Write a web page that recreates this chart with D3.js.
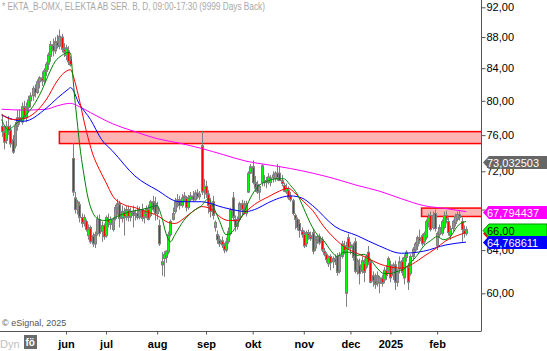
<!DOCTYPE html>
<html>
<head>
<meta charset="utf-8">
<script src="https://cdn.jsdelivr.net/npm/d3@7"></script>
<style>
body { margin: 0; background: #fff; }
svg { display: block; font-family: Arial, "Liberation Sans", sans-serif; }
</style>
</head>
<body>
<div id="chart"></div>
<script>
// daily candles [open, high, low, close]
const candles = [
  [77.0,78.4,75.8,76.4],[76.4,77.0,74.4,75.2],[75.4,77.6,75.0,77.0],[77.0,78.2,76.0,76.5],[76.6,77.2,74.6,75.0],
  [75.5,76.0,73.9,74.1],[74.8,77.5,74.5,77.0],[77.0,78.9,76.5,78.0],[78.0,79.0,77.2,77.6],[77.5,79.8,77.2,79.3],
  [79.3,80.0,77.8,78.2],[78.0,79.8,77.5,79.2],[79.2,80.6,78.6,80.1],[80.0,81.0,79.2,80.6],[80.6,81.8,80.0,81.5],
  [81.5,82.0,80.4,81.0],[81.0,82.6,80.8,82.3],[82.3,83.0,81.5,82.8],[82.8,83.6,81.8,82.4],[82.4,84.0,82.0,83.7],
  [83.6,84.8,83.0,84.5],[84.5,86.0,83.8,85.7],[85.5,87.5,84.8,87.0],[87.0,87.8,85.5,86.2],[86.2,88.0,85.8,87.4],
  [87.4,88.3,86.5,86.8],[86.8,89.0,86.4,88.1],[88.0,88.4,86.0,86.4],[86.4,87.2,85.4,86.0],[85.6,87.0,85.0,86.6],
  [86.2,86.8,84.4,84.8],[85.0,85.5,84.2,84.4],[73.4,75.1,69.4,69.8],[69.2,69.8,67.6,68.0],[68.0,69.0,67.5,68.8],
  [68.5,68.8,66.7,67.2],[67.2,67.6,66.2,66.6],[66.8,67.5,66.3,67.2],[66.8,67.0,65.8,66.0],[65.4,66.5,65.0,66.1],
  [66.2,66.4,64.6,64.8],[65.4,65.7,64.3,64.6],[64.6,65.8,64.2,65.5],[65.6,67.4,65.4,67.0],[67.0,67.5,65.3,65.6],
  [65.8,66.8,64.8,66.4],[66.4,66.6,65.0,65.3],[65.4,67.4,65.2,67.2],[67.0,67.6,66.2,66.6],[66.5,67.3,66.0,67.0],
  [66.0,67.2,65.8,67.0],[67.1,68.5,66.9,68.2],[68.2,69.1,67.4,68.6],[68.6,68.9,66.2,67.1],[67.1,68.4,66.7,67.8],
  [67.8,68.2,65.4,67.2],[67.2,68.4,66.9,68.0],[68.0,68.4,66.8,67.2],[67.2,68.2,66.8,67.8],[67.8,68.4,66.2,67.4],
  [67.4,68.0,66.9,67.6],[67.6,68.4,67.0,67.2],[67.2,68.3,67.0,68.0],[68.0,68.6,66.8,67.1],[67.2,67.9,66.6,67.6],
  [67.6,68.4,67.1,68.1],[68.1,68.5,66.9,67.0],[67.4,69.0,67.2,68.8],[68.8,69.4,67.8,68.0],[68.6,69.3,66.9,67.6],
  [67.6,68.8,67.0,68.2],[66.4,67.0,64.4,64.6],[62.6,63.8,61.6,62.9],[63.2,63.9,61.5,63.6],[63.3,64.0,62.8,63.9],
  [63.8,65.8,63.6,65.5],[65.5,67.0,65.3,66.8],[67.0,68.2,66.9,67.6],[67.8,69.2,67.6,68.8],[68.8,69.6,68.2,69.0],
  [69.0,69.4,68.0,68.4],[68.4,69.6,68.2,69.2],[69.2,69.8,68.8,69.4],[69.2,69.4,67.8,68.2],[68.2,69.5,68.0,69.2],
  [69.0,69.8,68.8,69.4],[69.4,69.9,68.8,69.0],[69.0,70.0,68.9,69.7],[69.7,70.1,69.1,69.3],[69.3,69.9,69.0,69.6],
  [74.8,76.5,69.5,69.8],[70.0,71.2,69.1,70.4],[70.4,71.0,69.2,69.6],[69.6,70.0,67.6,68.4],[68.6,69.2,67.2,67.8],
  [68.8,69.4,67.0,67.4],[66.2,66.9,65.8,66.7],[65.5,65.9,64.6,65.0],[65.0,65.4,64.3,64.6],[64.9,65.3,64.2,64.5],
  [64.5,64.7,63.7,64.0],[64.0,65.2,63.8,64.8],[64.8,66.2,64.6,65.8],[65.6,68.2,65.4,68.0],[69.2,69.8,66.8,67.2],
  [67.0,67.4,65.8,66.3],[66.3,67.3,66.0,67.0],[67.0,68.8,66.8,68.6],[68.6,69.0,67.5,68.0],[68.0,68.9,67.5,67.8],
  [67.6,68.9,67.3,68.6],[69.8,72.0,69.7,71.8],[71.8,72.8,71.7,72.5],[72.5,73.2,70.6,70.8],[70.8,71.5,69.8,70.2],
  [70.6,71.0,69.6,69.8],[69.8,70.6,69.0,70.4],[70.8,72.8,70.4,72.6],[71.0,71.6,70.4,70.8],[70.8,71.4,70.2,71.0],
  [71.0,71.8,70.6,71.4],[70.8,71.6,70.4,71.3],[71.3,72.0,70.8,71.6],[71.2,72.0,70.9,71.8],[71.8,72.8,71.0,71.3],
  [71.8,72.6,71.0,71.0],[71.0,71.6,70.4,70.7],[70.5,70.8,69.8,69.9],[69.8,70.7,69.6,70.2],[70.0,70.4,69.0,69.2],
  [69.4,69.8,68.8,69.0],[68.9,69.1,67.4,67.6],[67.4,67.6,66.0,67.0],[67.0,67.2,65.9,66.2],[66.6,67.0,65.2,65.9],
  [65.9,66.2,65.2,65.5],[65.6,65.9,64.2,64.4],[64.6,65.9,64.3,65.7],[65.7,66.0,65.0,65.4],[65.4,65.8,64.9,65.1],
  [65.7,66.1,63.6,63.9],[64.2,65.4,63.9,65.0],[65.0,65.5,64.6,65.3],[65.3,65.6,64.5,64.7],[65.0,65.3,63.8,64.0],
  [63.9,64.2,63.4,63.6],[63.6,63.8,62.8,63.1],[62.7,63.5,62.4,63.3],[63.4,63.6,62.1,62.8],[62.9,63.4,62.3,63.2],
  [63.2,63.6,62.6,62.9],[63.4,63.7,61.6,61.9],[62.0,63.8,61.8,63.5],[63.4,64.9,63.2,64.6],[64.4,64.9,63.6,63.9],
  [60.0,64.8,58.8,64.4],[65.2,65.6,64.0,64.2],[64.2,64.8,63.6,64.5],[64.5,64.7,63.0,63.3],[64.8,65.2,61.8,62.0],
  [62.0,63.2,61.7,63.0],[62.6,63.2,60.8,61.8],[62.0,63.4,61.8,63.0],[62.8,63.2,61.0,61.9],[62.4,63.6,62.2,63.4],
  [63.8,64.4,62.6,62.8],[62.9,63.2,60.9,61.0],[61.6,62.0,60.6,61.1],[61.1,61.8,60.4,60.8],[61.0,62.0,60.6,61.6],
  [60.9,61.6,60.0,61.4],[61.4,61.7,60.6,60.9],[61.2,62.4,60.9,62.1],[62.1,62.6,61.2,61.6],[62.0,63.4,61.8,63.2],
  [62.6,63.0,61.0,61.4],[61.6,62.8,61.2,62.6],[62.6,63.0,60.3,61.0],[61.0,62.2,60.6,62.0],[62.2,63.4,61.8,62.9],
  [63.0,63.3,61.6,61.9],[61.4,63.6,60.8,63.3],[63.3,64.0,62.9,63.8],[62.4,62.8,60.3,61.0],[61.8,63.6,61.6,63.4],
  [63.4,64.3,63.0,64.1],[64.0,64.8,63.8,64.6],[64.4,65.4,64.0,65.2],[65.2,66.0,64.6,64.9],[65.4,65.6,64.4,64.6],
  [64.8,65.8,64.5,65.6],[65.2,67.0,65.0,66.8],[66.6,67.6,66.2,67.2],[67.4,67.8,65.8,66.0],[66.2,67.8,66.0,67.4],
  [67.6,68.0,65.8,66.1],[64.4,65.8,64.0,65.6],[65.5,66.5,65.2,66.2],[65.6,67.0,65.4,66.8],[66.2,67.8,66.0,67.4],
  [67.4,67.9,66.6,67.0],[66.8,67.2,65.4,65.7],[65.4,66.4,65.0,66.1],[66.1,67.0,65.8,66.8],[66.6,67.6,66.3,67.3],
  [67.0,67.8,66.8,67.5],[67.5,67.9,66.9,67.2],[66.8,67.2,64.8,66.0],[66.0,66.4,65.2,65.6],[65.6,66.3,65.4,66.0]
];

const monthLabels = ['jun', 'jul', 'aug', 'sep', 'okt', 'nov', 'dec', '2025', 'feb'];
const monthStart = [29, 47, 70, 92, 113, 136, 157, 175, 196];   // candle index of first day
const priceTicks = [60, 64, 68, 72, 76, 80, 84, 88, 92];

// moving averages: [candle index] / [value]
const greenIdx = [0,3,6,10,14,18,21,24,27,30,31,32,33,34,35,37,39,41,43,46,49,53,58,63,68,70,72,74,76,78,82,86,90,93,95,98,101,103,106,109,112,115,119,124,127,130,133,136,139,142,145,148,151,154,157,160,163,166,169,172,175,178,181,184,187,190,193,196,199,202,205,209];
const greenMa = [77.8,76.6,77.2,78.1,79.3,81.2,83.1,84.8,85.6,86.0,85.9,83.1,80.1,77.6,75.2,71.7,69.1,67.7,67.1,66.9,67.0,67.4,67.8,68.0,68.3,68.4,67.3,65.6,64.8,65.5,66.9,67.8,68.4,69.1,68.4,66.9,65.5,65.6,66.5,67.7,69.2,70.3,70.9,71.2,71.2,70.5,69.6,68.1,66.6,65.5,64.9,64.0,63.4,63.8,63.8,63.5,63.6,63.1,62.3,61.8,61.8,62.0,62.2,62.8,63.5,64.4,64.9,65.3,65.0,65.3,66.3,66.8];
const redIdx = [0,5,10,15,20,25,28,31,33,35,38,41,44,47,50,55,60,65,70,75,78,82,86,90,94,98,102,106,110,115,120,125,129,132,136,140,145,150,155,160,165,170,175,180,185,190,195,200,205,209];
const redMa = [78.4,77.8,77.9,78.6,80.1,82.4,83.4,83.8,82.3,80.1,76.6,73.9,72.2,70.8,69.4,68.5,68.2,67.8,67.4,66.7,66.6,67.1,67.8,68.3,68.1,67.3,66.9,66.9,67.8,68.7,69.3,69.9,70.2,69.7,68.8,67.9,66.3,65.1,64.2,63.7,63.2,62.7,62.4,62.3,62.7,63.4,64.1,64.9,65.4,65.7];
const blueIdx = [0,10,20,25,30,31,35,40,45,50,60,70,80,90,100,110,115,120,130,135,140,150,160,170,180,190,200,209];
const blueMa = [78.3,77.6,79.1,80.3,81.4,81.6,79.6,77.8,75.5,74.2,71.5,70.0,68.8,68.8,68.2,67.8,68.1,68.7,69.4,69.2,68.4,66.3,65.4,64.4,63.7,63.9,64.5,64.77];
const magentaIdx = [0,10,20,25,31,35,40,50,60,70,80,90,100,110,120,130,140,150,160,170,180,190,200,209];
const magentaMa = [79.0,78.9,79.0,79.4,79.7,79.3,78.6,77.3,76.4,75.6,75.1,74.5,73.8,73.1,72.7,72.3,71.8,71.2,70.5,69.9,69.1,68.4,68.1,67.79];

// resistance zones: [low, high], starting candle index
const zoneLow = [75.05, 67.3];
const zoneHigh = [76.4, 68.15];
const zoneFrom = [26, 189];

// price flags on the right axis
const flagValues = [73.032503, 67.794437, 65.652288, 66.00, 64.768611];
const flagTexts = ['73,032503', '67,794437', '65,652288', '66,00', '64,768611'];
const flagFill = ['#666666', '#ff00ff', '#ff0000', '#00ff00', '#0000ff'];
const flagInk = ['#ffffff', '#ffffff', '#ffffff', '#000000', '#ffffff'];

const width = 547, height = 351;
const plotRight = 481, plotBottom = 331;

const svg = d3.select('#chart')
  .append('svg')
  .attr('width', width)
  .attr('height', height);

const x = d3.scaleLinear()
  .domain([0, candles.length - 1])
  .range([1.6, 466]);

const y = d3.scaleLog()
  .domain([60, 92])
  .range([293.3, 7.3]);

svg.append('defs').append('clipPath').attr('id', 'plot')
  .append('rect').attr('x', 0).attr('y', 0).attr('width', plotRight).attr('height', plotBottom);

const plot = svg.append('g').attr('clip-path', 'url(#plot)');

// zones
zoneFrom.forEach((f, i) => {
  plot.append('rect')
    .attr('x', x(f))
    .attr('y', y(zoneHigh[i]))
    .attr('width', plotRight - x(f) + 2)
    .attr('height', y(zoneLow[i]) - y(zoneHigh[i]))
    .attr('fill', '#ffb4b4')
    .attr('stroke', '#ff0000')
    .attr('stroke-width', 1.5);
});

// candles
const candle = plot.selectAll('g.c')
  .data(candles)
  .enter()
  .append('g');

candle.append('line')
  .attr('x1', (d, i) => Math.round(x(i)) + 0.5)
  .attr('x2', (d, i) => Math.round(x(i)) + 0.5)
  .attr('y1', d => y(d[1]))
  .attr('y2', d => y(d[2]))
  .attr('stroke', '#808080')
  .attr('stroke-width', 1);

candle.append('rect')
  .attr('x', (d, i) => Math.round(x(i)) - 0.5)
  .attr('y', d => y(Math.max(d[0], d[3])))
  .attr('width', 2)
  .attr('height', d => Math.max(1, Math.abs(y(d[0]) - y(d[3]))))
  .attr('fill', d => d[3] >= d[0] ? '#00ff00' : '#ff0000')
  .attr('stroke', '#808080')
  .attr('stroke-width', 1);

// moving averages
const maLine = d3.line()
  .x(d => x(d[0]))
  .y(d => y(d[1]))
  .curve(d3.curveMonotoneX);

const series = [
  [magentaIdx, magentaMa, '#ff00ff'],
  [blueIdx, blueMa, '#0000ff'],
  [redIdx, redMa, '#ff0000'],
  [greenIdx, greenMa, '#008000']
];

series.forEach(s => {
  plot.append('path')
    .datum(s[0].map((idx, k) => [idx, s[1][k]]))
    .attr('fill', 'none')
    .attr('stroke', s[2])
    .attr('stroke-width', 1)
    .attr('d', maLine);
});

// frame
svg.append('line')
  .attr('x1', plotRight + 0.5).attr('x2', plotRight + 0.5)
  .attr('y1', 0).attr('y2', plotBottom + 0.5)
  .attr('stroke', '#555').attr('stroke-width', 1);

// y axis
const yAxis = d3.axisRight(y)
  .tickValues(priceTicks)
  .tickFormat(d => d.toFixed(2).replace('.', ','))
  .tickSize(4)
  .tickPadding(1);

const yg = svg.append('g')
  .attr('transform', `translate(${plotRight + 0.5},0)`)
  .call(yAxis);
yg.select('.domain').remove();
yg.selectAll('line').attr('stroke', '#555');
yg.selectAll('text').attr('font-size', 11).attr('font-family', 'Arial, "Liberation Sans", sans-serif').attr('fill', '#000');

// x axis
const xAxis = d3.axisBottom(x)
  .tickValues(monthStart)
  .tickFormat((d, i) => monthLabels[i])
  .tickSizeOuter(0)
  .tickSize(3)
  .tickPadding(6);

const xg = svg.append('g')
  .attr('transform', `translate(0,${plotBottom + 0.5})`)
  .call(xAxis);
xg.select('.domain').attr('d', `M0,0H${plotRight}`).attr('stroke', '#555');
xg.selectAll('line').attr('stroke', '#555');
xg.selectAll('text')
  .attr('font-size', 11)
  .attr('font-weight', 'bold')
  .attr('font-family', 'Arial, "Liberation Sans", sans-serif')
  .attr('fill', '#000');

// value flags
flagValues.forEach((v, i) => {
  const cy = Math.round(y(v)) + 0.5;
  svg.append('path')
    .attr('d', `M${plotRight + 2},${cy} L${plotRight + 8},${cy - 6.5} L${width},${cy - 6.5} L${width},${cy + 6.5} L${plotRight + 8},${cy + 6.5} Z`)
    .attr('fill', flagFill[i])
    .attr('stroke', i === 3 ? '#009000' : 'none')
    .attr('stroke-width', 1);
  svg.append('text')
    .attr('x', plotRight + 6)
    .attr('y', cy + 4)
    .attr('font-size', 11)
    .attr('fill', flagInk[i])
    .text(flagTexts[i]);
});

// header and footer texts
svg.append('text')
  .attr('x', 2).attr('y', 10)
  .attr('font-size', 10)
  .attr('fill', '#a8a8a8')
  .attr('textLength', 263)
  .attr('lengthAdjust', 'spacingAndGlyphs')
  .text('* EKTA_B-OMX, ELEKTA AB SER. B, D, 09:00-17:30 (9999 Days Back)');

svg.append('text')
  .attr('x', 2).attr('y', 326)
  .attr('font-size', 9)
  .attr('fill', '#555')
  .text('\u00a9 eSignal, 2025');

svg.append('text')
  .attr('x', 0).attr('y', 348)
  .attr('font-size', 11)
  .attr('fill', '#c0c0c0')
  .text('Dyn');

svg.append('rect')
  .attr('x', 24).attr('y', 335).attr('width', 13).attr('height', 14)
  .attr('fill', '#6a6a6a');
svg.append('text')
  .attr('x', 25.5).attr('y', 346)
  .attr('font-size', 10)
  .attr('font-weight', 'bold')
  .attr('fill', '#fff')
  .text('f\u00f6');
</script>
</body>
</html>
